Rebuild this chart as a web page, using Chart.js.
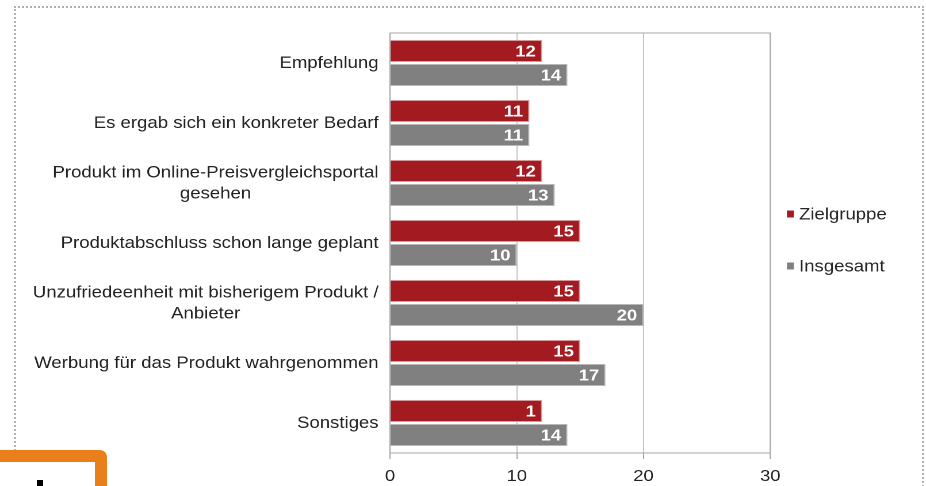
<!DOCTYPE html>
<html>
<head>
<meta charset="utf-8">
<script src="https://cdn.jsdelivr.net/npm/chart.js@4/dist/chart.umd.min.js"></script>
<style>
  html, body { margin:0; padding:0; background:#fff; overflow:hidden; width:926px; height:486px; }
  #wrap { position:absolute; left:0; top:0; width:805px; height:486px; transform:scaleX(1.15031); transform-origin:0 0; }
  #frame { position:absolute; left:14px; top:6px; width:906px; height:600px; border:2px dotted #b0b0b0; }
  #orange { position:absolute; left:-30px; top:450px; width:113px; height:120px; border:12px solid #e97f1b; border-radius:7px; background:#fff; z-index:5; }
  #dot { position:absolute; left:37px; top:480px; width:6px; height:6px; background:#000; z-index:6; }
</style>
</head>
<body>
<div id="frame"></div>
<div id="wrap"><canvas id="c" width="805" height="486"></canvas></div>
<div id="orange"></div>
<div id="dot"></div>
<script>
const categories = [
  "Empfehlung",
  "Es ergab sich ein konkreter Bedarf",
  ["Produkt im Online-Preisvergleichsportal", "gesehen"],
  "Produktabschluss schon lange geplant",
  ["Unzufriedeenheit mit bisherigem Produkt /", "Anbieter"],
  "Werbung für das Produkt wahrgenommen",
  "Sonstiges"
];
const zielgruppe = [12, 11, 12, 15, 15, 15, 12];
const insgesamt = [14, 11, 13, 10, 20, 17, 14];
const zielgruppeLabels = ["12", "11", "12", "15", "15", "15", "1"];
const insgesamtLabels = ["14", "11", "13", "10", "20", "17", "14"];
const seriesNames = ["Zielgruppe", "Insgesamt"];
const xTicks = [0, 10, 20, 30];

const FONT = '"Liberation Sans", Arial, sans-serif';

const framePlugin = {
  id: 'plotFrame',
  beforeDatasetsDraw(chart) {
    const a = chart.chartArea, ctx = chart.ctx;
    ctx.save();
    ctx.strokeStyle = '#a6a6a6';
    ctx.lineWidth = 1;
    ctx.strokeRect(a.left, a.top, a.right - a.left, a.bottom - a.top);
    ctx.restore();
  }
};

const yLabelPlugin = {
  id: 'yLabels',
  afterDraw(chart) {
    const ctx = chart.ctx, ys = chart.scales.y;
    ctx.save();
    ctx.font = '16.15px ' + FONT;
    ctx.fillStyle = '#222';
    ctx.textAlign = 'center';
    ctx.textBaseline = 'middle';
    const rightEdge = chart.chartArea.left - 10;
    categories.forEach((lab, i) => {
      const lines = Array.isArray(lab) ? lab : [lab];
      const w = Math.max(...lines.map(l => ctx.measureText(l).width));
      const cx = rightEdge - w / 2;
      const y0 = ys.getPixelForValue(i) + 0.5;
      lines.forEach((l, j) => ctx.fillText(l, cx, y0 + (j - (lines.length - 1) / 2) * 21));
    });
    ctx.restore();
  }
};

const valueLabelPlugin = {
  id: 'valueLabels',
  afterDatasetsDraw(chart) {
    const ctx = chart.ctx;
    ctx.save();
    ctx.font = 'bold 16px ' + FONT;
    ctx.fillStyle = '#fff';
    ctx.textAlign = 'right';
    ctx.textBaseline = 'middle';
    chart.data.datasets.forEach((ds, di) => {
      const meta = chart.getDatasetMeta(di);
      meta.data.forEach((el, i) => {
        ctx.fillText(ds.valueLabels[i], el.x - 5.5, el.y + 1);
      });
    });
    ctx.restore();
  }
};

const legendPlugin = {
  id: 'sideLegend',
  afterDraw(chart) {
    const ctx = chart.ctx, a = chart.chartArea;
    const cy = (a.top + a.bottom) / 2;
    const x = a.right + 14.5;
    ctx.save();
    ctx.font = '16.15px ' + FONT;
    ctx.textAlign = 'left';
    ctx.textBaseline = 'middle';
    chart.data.datasets.forEach((ds, i) => {
      const y = cy - 29 + i * 52;
      ctx.fillStyle = ds.backgroundColor;
      ctx.fillRect(x, y - 3.5, 6, 7);
      ctx.fillStyle = '#262626';
      ctx.fillText(ds.label, x + 10.5, y + 1);
    });
    ctx.restore();
  }
};

new Chart(document.getElementById('c'), {
  type: 'bar',
  data: {
    labels: categories,
    datasets: [
      { label: seriesNames[0], data: zielgruppe, valueLabels: zielgruppeLabels,
        backgroundColor: '#a31a20', borderColor: '#d69a9d', borderWidth: 1,
        barPercentage: 0.92, categoryPercentage: 0.8 },
      { label: seriesNames[1], data: insgesamt, valueLabels: insgesamtLabels,
        backgroundColor: '#808080', borderColor: '#b8b8b8', borderWidth: 1,
        barPercentage: 0.92, categoryPercentage: 0.8 }
    ]
  },
  options: {
    indexAxis: 'y',
    responsive: false,
    animation: false,
    devicePixelRatio: 2,
    layout: { padding: { left: 0, right: 135.4, top: 33, bottom: 0 } },
    plugins: { legend: { display: false }, tooltip: { enabled: false } },
    scales: {
      x: {
        min: xTicks[0], max: xTicks[xTicks.length - 1],
        afterBuildTicks(scale) { scale.ticks = xTicks.map(v => ({ value: v })); },
        afterFit(scale) { scale.height = 33; },
        ticks: { color: '#222', font: { family: FONT, size: 16 }, padding: 8, maxRotation: 0 },
        grid: { color: '#c4c4c4', tickColor: '#a6a6a6', tickLength: 6, drawTicks: true },
        border: { display: true, color: '#a6a6a6' }
      },
      y: {
        afterFit(scale) { scale.width = 339.1; },
        ticks: { display: false },
        grid: { display: false, drawTicks: false },
        border: { display: false }
      }
    }
  },
  plugins: [framePlugin, valueLabelPlugin, yLabelPlugin, legendPlugin]
});
</script>
</body>
</html>
